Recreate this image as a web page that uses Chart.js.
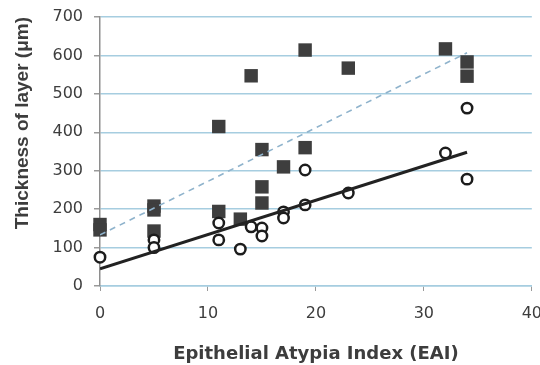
<!DOCTYPE html>
<html>
<head>
<meta charset="utf-8">
<script src="https://cdn.jsdelivr.net/npm/chart.js@4/dist/chart.umd.min.js"></script>
<style>
  html, body { margin: 0; padding: 0; background: #fff; overflow: hidden; }
  #wrap { width: 555px; height: 365px; position: relative; }
</style>
</head>
<body>
<div id="wrap"><canvas id="eaiChart"></canvas></div>
<script>
// filled squares
const squareX = [0, 0, 5, 5, 5, 11, 11, 13, 14, 15, 15, 15, 17, 19, 19, 23, 32, 34, 34];
const squareY = [160, 146, 208, 198, 143, 415, 194, 174, 547, 355, 258, 216, 310, 614, 360, 567, 617, 583, 546];

// open circles
const circleX = [0, 5, 5, 11, 11, 13, 14, 15, 15, 17, 17, 19, 19, 23, 32, 34, 34];
const circleY = [75, 120, 100, 164, 120, 96, 154, 151, 130, 193, 177, 302, 211, 242, 346, 463, 278];

// trend lines
const trendX = [0, 34];
const solidTrendY = [45, 348];
const dashedTrendY = [133, 607];

const xTitle = 'Epithelial Atypia Index (EAI)';
const yTitle = 'Thickness of layer (\u03bcm)';

function toPoints(xs, ys) {
  return xs.map((x, i) => ({ x: x, y: ys[i] }));
}

const textColor = '#3d3d3d';
const gridBlue = '#a6cde0';

new Chart(document.getElementById('eaiChart'), {
  type: 'scatter',
  data: {
    datasets: [
      {
        type: 'line',
        data: toPoints(trendX, solidTrendY),
        borderColor: '#222222',
        borderWidth: 3,
        pointRadius: 0,
        fill: false,
        order: 0
      },
      {
        type: 'line',
        data: toPoints(trendX, dashedTrendY),
        borderColor: '#8fb3cc',
        borderWidth: 1.6,
        borderDash: [6, 5],
        pointRadius: 0,
        fill: false,
        order: 0
      },
      {
        data: toPoints(circleX, circleY),
        pointStyle: 'circle',
        pointRadius: 5.2,
        borderWidth: 2.5,
        borderColor: '#1c1c1c',
        backgroundColor: '#ffffff',
        clip: false,
        order: 1
      },
      {
        data: toPoints(squareX, squareY),
        pointStyle: 'rect',
        pointRadius: 9.5,
        borderWidth: 0,
        backgroundColor: '#3e3e3e',
        clip: false,
        order: 2
      }
    ]
  },
  options: {
    responsive: true,
    maintainAspectRatio: false,
    animation: false,
    events: [],
    layout: { padding: { top: 17, left: 0, right: 0, bottom: 0 } },
    plugins: {
      legend: { display: false },
      tooltip: { enabled: false }
    },
    scales: {
      x: {
        type: 'linear',
        min: 0,
        max: 40,
        ticks: {
          stepSize: 10,
          color: textColor,
          padding: 13,
          font: { family: 'DejaVu Sans', size: 16 }
        },
        grid: {
          drawOnChartArea: false,
          tickLength: 5,
          tickColor: '#9a9a9a'
        },
        border: { color: gridBlue, width: 1.5 },
        title: {
          display: true,
          text: xTitle,
          color: textColor,
          padding: { top: 0, bottom: 0 },
          font: { family: 'DejaVu Sans', size: 18, weight: 'bold', lineHeight: 1.2 }
        },
        afterFit: function(scale) { scale.height = 79; }
      },
      y: {
        min: 0,
        max: 700,
        ticks: {
          stepSize: 100,
          color: textColor,
          padding: 11,
          font: { family: 'DejaVu Sans', size: 16 }
        },
        grid: {
          color: gridBlue,
          lineWidth: 1.5,
          tickLength: 6,
          tickColor: '#9a9a9a'
        },
        border: { color: '#8e8e8e', width: 1.5 },
        title: {
          display: true,
          text: yTitle,
          color: textColor,
          align: 'end',
          padding: { top: 11, bottom: 0 },
          font: { family: 'Liberation Sans', size: 19, weight: 'bold', lineHeight: 1.2 }
        },
        afterFit: function(scale) {
          scale.width = 100;
          scale.paddingTop = 0;
          scale.paddingBottom = 0;
        }
      }
    }
  }
});
</script>
</body>
</html>
